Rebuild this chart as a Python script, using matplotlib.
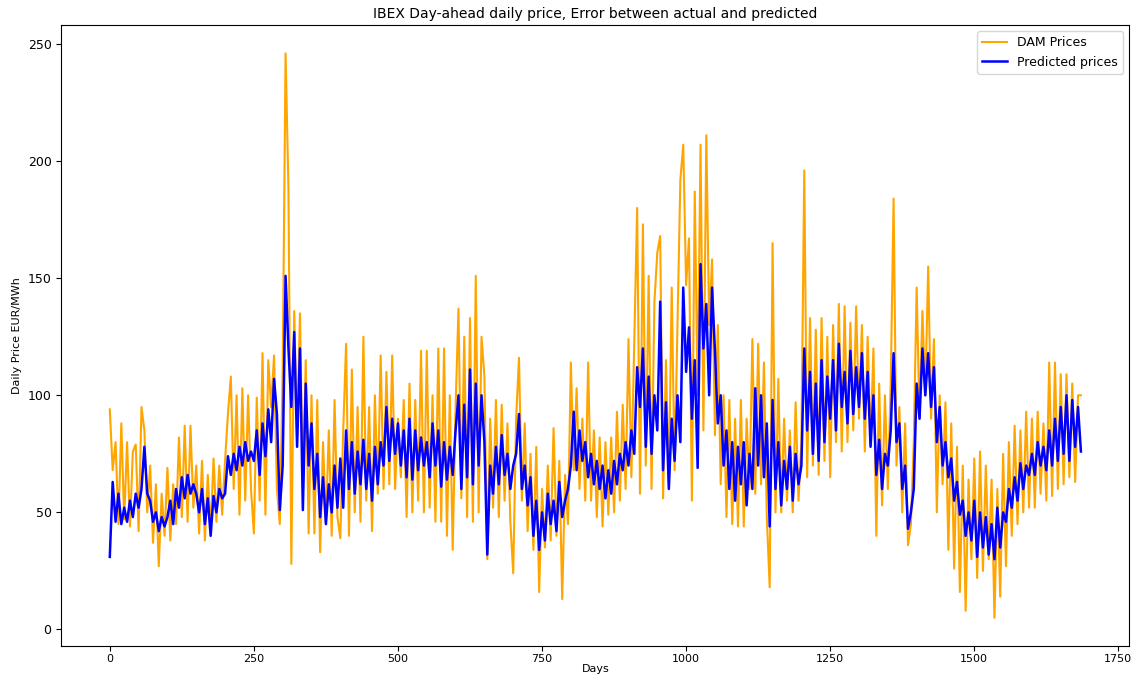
import numpy as np
import matplotlib
matplotlib.use('Agg')
import matplotlib.pyplot as plt


# =========================
# data (one value every 5 days)
# =========================
step_days = 5

dam_prices = [
    94, 68, 80, 45, 88, 47, 80, 44, 76, 79,
    42, 95, 85, 50, 70, 37, 62, 27, 58, 40,
    69, 38, 62, 45, 82, 48, 87, 46, 87, 52,
    70, 41, 72, 38, 66, 42, 73, 46, 70, 49,
    72, 92, 108, 60, 100, 49, 103, 55, 100, 60,
    41, 99, 55, 118, 49, 115, 95, 117, 60, 45,
    110, 246, 188, 28, 136, 80, 135, 60, 115, 41,
    100, 41, 98, 33, 80, 45, 85, 40, 98, 48,
    39, 85, 122, 40, 111, 50, 95, 46, 125, 55,
    95, 42, 100, 58, 117, 60, 110, 62, 117, 60,
    90, 65, 98, 48, 105, 50, 98, 55, 119, 50,
    119, 52, 100, 46, 120, 46, 120, 40, 100, 34,
    95, 137, 56, 125, 48, 133, 46, 151, 50, 125,
    108, 30, 90, 52, 98, 48, 96, 55, 88, 46,
    24, 90, 116, 55, 88, 42, 75, 34, 78, 16,
    60, 35, 70, 38, 86, 40, 72, 13, 66, 45,
    114, 68, 103, 60, 90, 55, 114, 55, 85, 48,
    82, 44, 80, 49, 82, 50, 93, 55, 96, 60,
    124, 65, 122, 180, 58, 173, 70, 151, 60, 140,
    161, 168, 56, 115, 62, 146, 68, 130, 192, 207,
    147, 167, 55, 187, 100, 207, 85, 211, 130, 158,
    83, 130, 62, 100, 48, 98, 45, 90, 44, 98,
    44, 90, 60, 124, 58, 122, 62, 114, 48, 18,
    165, 50, 107, 50, 90, 55, 85, 50, 97, 55,
    80, 196, 65, 133, 70, 128, 66, 133, 72, 125,
    65, 130, 80, 139, 76, 138, 80, 131, 85, 138,
    90, 130, 76, 125, 80, 120, 40, 105, 53, 100,
    60, 105, 184, 70, 95, 50, 88, 36, 45, 80,
    146, 90, 136, 100, 155, 90, 124, 50, 100, 62,
    97, 34, 88, 26, 78, 16, 70, 8, 64, 30,
    73, 22, 76, 25, 70, 30, 64, 5, 60, 14,
    75, 27, 80, 40, 87, 45, 85, 50, 93, 52,
    90, 52, 93, 58, 88, 55, 114, 57, 114, 60,
    109, 62, 109, 65, 105, 63, 100, 100,
]

predicted_prices = [
    31, 63, 46, 58, 45, 52, 46, 55, 48, 58,
    52, 60, 78, 58, 55, 46, 50, 42, 48, 44,
    48, 55, 45, 60, 52, 65, 56, 66, 58, 62,
    58, 50, 60, 45, 56, 40, 57, 50, 60, 56,
    58, 74, 66, 75, 68, 78, 70, 80, 72, 76,
    72, 85, 66, 88, 74, 94, 80, 107, 92, 51,
    70, 151, 120, 95, 127, 78, 120, 51, 105, 70,
    88, 60, 75, 48, 65, 45, 62, 50, 70, 52,
    73, 52, 85, 60, 80, 58, 76, 62, 81, 60,
    75, 55, 78, 62, 80, 70, 95, 72, 90, 75,
    88, 70, 85, 65, 90, 64, 85, 68, 82, 70,
    80, 65, 88, 70, 85, 61, 80, 64, 78, 66,
    85, 100, 60, 96, 65, 111, 62, 105, 70, 100,
    80, 32, 70, 58, 78, 62, 83, 66, 75, 60,
    70, 75, 92, 60, 70, 53, 65, 40, 55, 34,
    50, 38, 58, 45, 55, 42, 63, 48, 55, 60,
    70, 93, 68, 85, 72, 80, 65, 75, 62, 72,
    60, 70, 56, 68, 58, 72, 62, 75, 68, 80,
    70, 85, 75, 112, 95, 120, 78, 108, 75, 100,
    85, 140, 68, 97, 60, 90, 72, 100, 80, 146,
    110, 129, 90, 115, 69, 156, 120, 139, 100, 146,
    119, 88, 100, 70, 85, 60, 80, 55, 78, 62,
    80, 53, 75, 60, 103, 70, 100, 65, 88, 44,
    98, 60, 80, 53, 72, 60, 78, 55, 75, 62,
    70, 120, 85, 110, 75, 105, 72, 115, 80, 108,
    90, 115, 85, 122, 95, 110, 88, 119, 92, 112,
    95, 118, 90, 110, 78, 100, 66, 81, 60, 75,
    70, 85, 118, 80, 88, 60, 70, 43, 50, 60,
    105, 90, 120, 100, 118, 95, 112, 80, 95, 70,
    80, 65, 73, 55, 63, 49, 55, 40, 50, 38,
    55, 31, 50, 35, 48, 32, 45, 30, 52, 35,
    50, 46, 60, 52, 65, 55, 71, 60, 70, 66,
    75, 66, 80, 70, 78, 68, 85, 70, 90, 72,
    95, 75, 100, 72, 98, 78, 95, 76,
]

days = np.arange(len(dam_prices)) * step_days


# =========================
# plot
# =========================
fig = plt.figure(figsize=(11.34, 6.8), dpi=100)
ax = fig.add_axes([0.054, 0.05, 0.942, 0.913])

ax.plot(days, dam_prices, color='orange', linewidth=1.5, label='DAM Prices')
ax.plot(days, predicted_prices, color='blue', linewidth=1.8, label='Predicted prices')

ax.set_title('IBEX Day-ahead daily price, Error between actual and predicted', fontsize=10, pad=5)
ax.set_xlabel('Days', fontsize=8, labelpad=0)
ax.set_ylabel('Daily Price EUR/MWh', fontsize=8)
ax.set_xticks([0, 250, 500, 750, 1000, 1250, 1500, 1750])
ax.set_yticks([0, 50, 100, 150, 200, 250])
ax.tick_params(axis='x', labelsize=8, pad=2)
ax.tick_params(axis='y', labelsize=9)
ax.legend(loc='upper right', fontsize=9)

fig.savefig('out.png', dpi=100)
